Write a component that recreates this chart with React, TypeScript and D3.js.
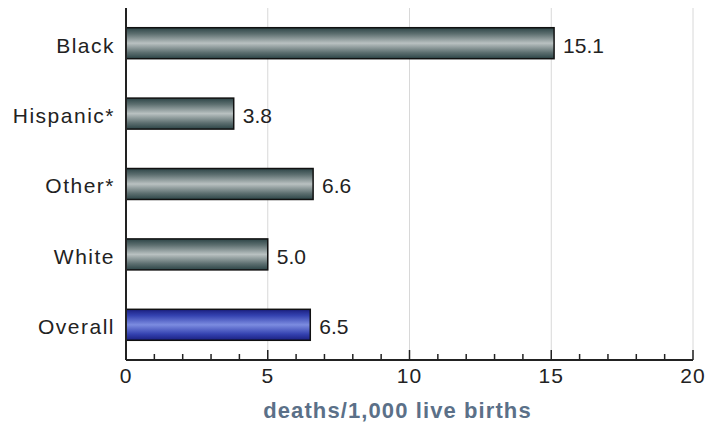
import * as d3 from 'd3'

const categories = ['Black', 'Hispanic*', 'Other*', 'White', 'Overall']
const values = [15.1, 3.8, 6.6, 5.0, 6.5]
const majorTicks = [0, 5, 10, 15, 20]
const minorTicks = d3.range(0, 21)

const W = 710
const H = 427
const margin = { top: 8, right: 17, bottom: 67, left: 126 }

const App = () => {
  const innerW = W - margin.left - margin.right
  const innerH = H - margin.top - margin.bottom

  const x = d3.scaleLinear().domain([0, 20]).range([0, innerW])
  const y = d3.scaleBand<string>().domain(categories).range([0, innerH]).paddingInner(0.56).paddingOuter(0.28)

  const font = '"Liberation Sans", Arial, sans-serif'

  return (
    <svg width={W} height={H} style={{ position: 'absolute', left: 0, top: 0, background: '#fff' }}>
      <defs>
        <linearGradient id="gray" x1="0" y1="0" x2="0" y2="1">
          <stop offset="0%" stopColor="#2c4446" />
          <stop offset="20%" stopColor="#5d6f70" />
          <stop offset="50%" stopColor="#b9c1c1" />
          <stop offset="80%" stopColor="#5d6f70" />
          <stop offset="100%" stopColor="#2c4446" />
        </linearGradient>
        <linearGradient id="blue" x1="0" y1="0" x2="0" y2="1">
          <stop offset="0%" stopColor="#1a1f80" />
          <stop offset="20%" stopColor="#3442b0" />
          <stop offset="50%" stopColor="#7c8ce0" />
          <stop offset="80%" stopColor="#3442b0" />
          <stop offset="100%" stopColor="#1a1f80" />
        </linearGradient>
      </defs>
      <g transform={`translate(${margin.left},${margin.top})`} fontFamily={font}>
        {majorTicks.slice(1).map((t) => (
          <line key={'g' + t} x1={x(t)} x2={x(t)} y1={0} y2={innerH} stroke="#d8d8d8" strokeWidth={1} />
        ))}
        {categories.map((c, i) => {
          const v = values[i]
          const y0 = y(c) ?? 0
          return (
            <g key={c}>
              <rect
                x={x(0)}
                y={y0}
                width={x(v) - x(0)}
                height={y.bandwidth()}
                fill={c === 'Overall' ? 'url(#blue)' : 'url(#gray)'}
                stroke="#111"
                strokeWidth={1.5}
              />
              <text
                x={-11}
                y={y0 + y.bandwidth() / 2 + 2}
                dy="0.35em"
                textAnchor="end"
                fontSize={21}
                letterSpacing={1.5}
                fill="#222"
              >
                {c}
              </text>
              <text x={x(v) + 9} y={y0 + y.bandwidth() / 2 + 2} dy="0.35em" fontSize={21} fill="#222">
                {v.toFixed(1)}
              </text>
            </g>
          )
        })}
        <line x1={0} x2={0} y1={0} y2={innerH} stroke="#222" strokeWidth={2} />
        <line x1={0} x2={innerW} y1={innerH} y2={innerH} stroke="#222" strokeWidth={2} />
        {minorTicks.map((t) => (
          <line
            key={'t' + t}
            x1={x(t)}
            x2={x(t)}
            y1={innerH}
            y2={innerH - (t % 5 === 0 ? 10 : 6)}
            stroke="#222"
            strokeWidth={1.5}
          />
        ))}
        {majorTicks.map((t) => (
          <text key={'l' + t} x={x(t)} y={innerH + 16} dy="0.35em" textAnchor="middle" fontSize={21} letterSpacing={1} fill="#222">
            {t}
          </text>
        ))}
        <text
          x={innerW / 2 - 12}
          y={innerH + 58}
          textAnchor="middle"
          fontSize={22}
          letterSpacing={1.1}
          fontWeight="bold"
          fill="#5b7088"
        >
          deaths/1,000 live births
        </text>
      </g>
    </svg>
  )
}

export default App
